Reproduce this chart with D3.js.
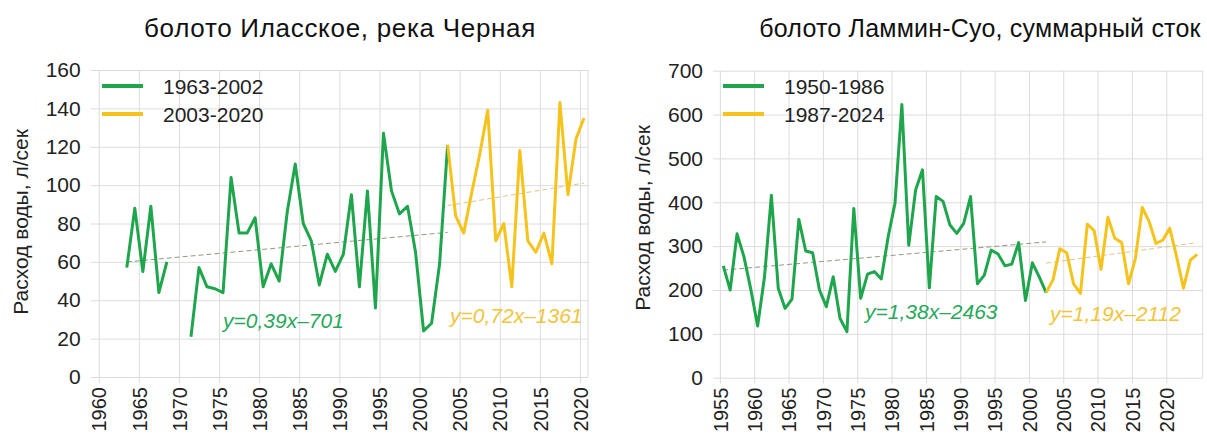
<!DOCTYPE html>
<html lang="ru">
<head>
<meta charset="UTF-8">
<title>Расход воды</title>
<script src="https://d3js.org/d3.v7.min.js"></script>
<style>
    body { margin: 0; background: #fff; }
    svg { display: block; font-family: "Liberation Sans", Arial, sans-serif; }
    .grid line { stroke: #dcdcdc; }
    .grid path { display: none; }
</style>
</head>
<body>
<script>
// болото Иласское, река Черная
var ilasYearsEarly = d3.range(1963, 2004)
var ilasEarly = [57, 88, 55, 89, 44, 60, null, null, 21, 57, 47, 46, 44, 104, 75, 75, 83, 47, 59, 50,
                 86, 111, 80, 71, 48, 64, 55, 64, 95, 47, 97, 36, 127, 97, 85, 89, 65, 24, 28, 59, 121]
var ilasYearsLate = d3.range(2003, 2021)
var ilasLate = [121, 84, 75, 96, 116, 139, 71, 80, 47, 118, 71, 65, 75, 59, 143, 95, 124, 135]

// болото Ламмин-Суо
var lamYearsEarly = d3.range(1955, 2003)
var lamEarly = [255, 200, 328, 276, 202, 118, 230, 416, 204, 158, 179, 361, 289, 285, 200, 162, 230, 135,
                105, 386, 181, 236, 242, 225, 321, 398, 623, 302, 428, 474, 205, 413, 402, 348, 329, 352,
                413, 214, 234, 291, 282, 255, 259, 308, 176, 262, 230, 194]
var lamYearsLate = d3.range(2002, 2025)
var lamLate = [194, 223, 294, 285, 214, 192, 350, 335, 247, 366, 318, 308, 214, 272, 388, 356, 306, 314,
               341, 276, 204, 268, 281]

var ilasTicksY = d3.range(0, 161, 20)
var ilasTicksX = d3.range(1960, 2021, 5)
var lamTicksY = d3.range(0, 701, 100)
var lamTicksX = d3.range(1955, 2021, 5)

var green = '#1fa64d', yellow = '#f6c31c'

var w = 1207, h = 436
var svg = d3.select('body').append('svg').attr('width', w).attr('height', h)

function fitLine(years, vals) {
    var pts = years.map((y, i) => [y, vals[i]]).filter(p => p[1] != null)
    var mx = d3.mean(pts, p => p[0]), my = d3.mean(pts, p => p[1])
    var b = d3.sum(pts, p => (p[0] - mx) * (p[1] - my)) / d3.sum(pts, p => (p[0] - mx) * (p[0] - mx))
    return [d3.min(pts, p => p[0]), d3.max(pts, p => p[0]), b, my - b * mx]
}

function panel(o) {
    var x = d3.scaleLinear().domain(o.xDomain).range([o.left, o.right])
    var y = d3.scaleLinear().domain(o.yDomain).range([o.bottom, o.top])
    var g = svg.append('g')

    // horizontal grid + y labels
    g.append('g').attr('class', 'grid')
        .attr('transform', 'translate(' + o.left + ',0)')
        .call(d3.axisLeft(y).tickValues(o.ticksY).tickSize(-(o.right - o.left)).tickPadding(10))
        .selectAll('text').style('font-size', '21px').attr('fill', '#222')

    // vertical grid + rotated year labels
    var xa = g.append('g').attr('class', 'grid')
        .attr('transform', 'translate(0,' + o.bottom + ')')
        .call(d3.axisBottom(x).tickValues(o.ticksX).tickFormat(d3.format('d')).tickSize(-(o.bottom - o.top)))
    xa.selectAll('line').attr('y1', 6)
    xa.selectAll('text')
        .attr('transform', 'rotate(-90)')
        .attr('x', -10).attr('y', 0).attr('dy', '0.36em')
        .style('text-anchor', 'end').style('font-size', '20px').attr('fill', '#222')

    g.append('line').attr('x1', o.right).attr('x2', o.right)
        .attr('y1', o.top).attr('y2', o.bottom).attr('stroke', '#dcdcdc')

    // trend lines
    o.series.forEach(s => {
        var f = fitLine(s.years, s.values)
        g.append('line')
            .attr('x1', x(f[0] + 0.5)).attr('y1', y(f[2] * f[0] + f[3]))
            .attr('x2', x(f[1] + 0.5)).attr('y2', y(f[2] * f[1] + f[3]))
            .attr('stroke', s.trend).attr('stroke-width', 1).attr('stroke-dasharray', '5,3')
    })

    var line = d3.line()
        .defined(d => d[1] != null)
        .x(d => x(d[0] + 0.5))
        .y(d => y(d[1]))

    o.series.forEach(s => {
        g.append('path')
            .datum(s.years.map((yr, i) => [yr, s.values[i]]))
            .attr('d', line)
            .attr('fill', 'none').attr('stroke', s.color).attr('stroke-width', 3)
            .attr('stroke-linejoin', 'round')
    })

    // legend
    o.series.forEach((s, i) => {
        var ly = o.legendY + i * 28
        g.append('line').attr('x1', o.legendX).attr('x2', o.legendX + 41)
            .attr('y1', ly).attr('y2', ly).attr('stroke', s.color).attr('stroke-width', 4)
        g.append('text').attr('x', o.legendX + 61).attr('y', ly).attr('dy', '0.36em')
            .style('font-size', '21px').attr('fill', '#222').text(s.name)
    })

    // equations
    o.series.forEach(s => {
        g.append('text').attr('x', s.eqX).attr('y', s.eqY).attr('dy', '0.36em')
            .style('font-size', '21px').style('font-style', 'italic')
            .attr('fill', s.eqColor).text(s.eq)
    })

    g.append('text').attr('x', o.titleX).attr('y', 37).attr('text-anchor', 'middle')
        .style('font-size', o.titleSize).style('letter-spacing', o.titleSpacing)
        .attr('fill', '#111').text(o.title)

    g.append('text')
        .attr('transform', 'translate(' + o.yTitleX + ',' + o.yTitleY + ') rotate(-90)')
        .attr('text-anchor', 'middle').attr('dy', '0.36em')
        .style('font-size', '21px').attr('fill', '#222').text('Расход воды, л/сек')
}

panel({
    title: 'болото Иласское, река Черная', titleX: 340, titleSize: '26px', titleSpacing: '0.7px',
    left: 90.7, right: 588, top: 70, bottom: 377,
    xDomain: [1959, 2021], yDomain: [0, 160],
    ticksX: ilasTicksX, ticksY: ilasTicksY,
    yTitleX: 20, yTitleY: 222,
    legendX: 102, legendY: 86,
    series: [
        {name: '1963-2002', years: ilasYearsEarly, values: ilasEarly, color: green, trend: '#8f9a80',
         eq: 'y=0,39x\u2013701', eqX: 223, eqY: 320, eqColor: '#27a85a'},
        {name: '2003-2020', years: ilasYearsLate, values: ilasLate, color: yellow, trend: '#e0c48a',
         eq: 'y=0,72x\u20131361', eqX: 450, eqY: 315, eqColor: '#f2c43a'}
    ]
})

panel({
    title: 'болото Ламмин-Суо, суммарный сток', titleX: 980, titleSize: '25px', titleSpacing: '0.2px',
    left: 713, right: 1202.7, top: 70.7, bottom: 377.7,
    xDomain: [1954, 2025.3], yDomain: [0, 700],
    ticksX: lamTicksX, ticksY: lamTicksY,
    yTitleX: 642, yTitleY: 218,
    legendX: 723, legendY: 86,
    series: [
        {name: '1950-1986', years: lamYearsEarly, values: lamEarly, color: green, trend: '#8f9a80',
         eq: 'y=1,38x\u20132463', eqX: 865, eqY: 311, eqColor: '#27a85a'},
        {name: '1987-2024', years: lamYearsLate, values: lamLate, color: yellow, trend: '#e0c48a',
         eq: 'y=1,19x\u20132112', eqX: 1050, eqY: 313, eqColor: '#f2c43a'}
    ]
})
</script>
</body>
</html>
